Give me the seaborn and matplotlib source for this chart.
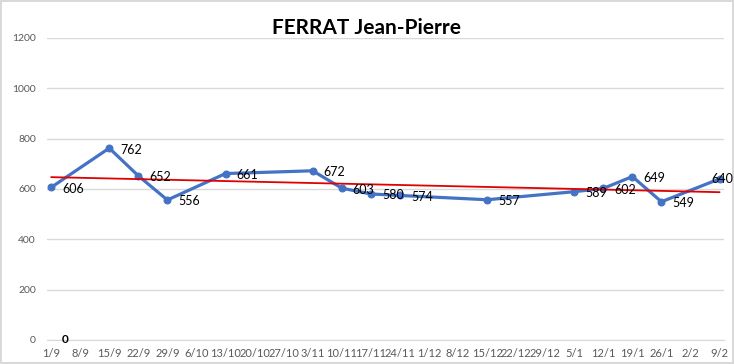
import pandas as pd
import numpy as np
import matplotlib
matplotlib.use('Agg')
import matplotlib.pyplot as plt
import matplotlib.dates as mdates
import seaborn as sns

# data (day/month, season 2019-2020)
dates = ['2019-09-01', '2019-09-15', '2019-09-22', '2019-09-29', '2019-10-13',
         '2019-11-03', '2019-11-10', '2019-11-17', '2019-11-24', '2019-12-15',
         '2020-01-05', '2020-01-12', '2020-01-19', '2020-01-26', '2020-02-09']
values = [606, 762, 652, 556, 661, 672, 603, 580, 574, 557, 589, 602, 649, 549, 640]
zero_dates = ['2019-09-01']
zero_values = [0]
title = 'FERRAT Jean-Pierre'

df = pd.DataFrame({'date': pd.to_datetime(dates), 'value': values})

sns.set_style('white')
plt.rcParams['font.family'] = ['Lato', 'DejaVu Sans']

fig = plt.figure(figsize=(7.34, 3.64), dpi=100)
fig.patch.set_edgecolor('#d9d9d9')
fig.patch.set_linewidth(1.5)
ax = fig.add_axes([0.064, 0.066, 0.922, 0.830])

sns.lineplot(data=df, x='date', y='value', ax=ax, color='#4472C4', linewidth=2.3,
             marker='o', markersize=5, markeredgecolor='#4472C4', zorder=3)

# linear trendline (like Excel)
xnum = mdates.date2num(df['date'])
k, b = np.polyfit(xnum, df['value'], 1)
ax.plot(df['date'].iloc[[0, -1]], k * xnum[[0, -1]] + b, color='#e00000', linewidth=1.3, zorder=4)

n = len(df)
for i, (d, v) in enumerate(zip(df['date'], df['value'])):
    # last label is pushed back inside the chart, like Excel does
    off = (-6, 0) if i == n - 1 else (8, -1)
    ax.annotate(str(v), (d, v), xytext=off, textcoords='offset points',
                ha='left', va='center', fontsize=9, color='#000000', zorder=5)
for d, v in zip(pd.to_datetime(zero_dates), zero_values):
    ax.annotate(str(v), (d, v), xytext=(8, 0), textcoords='offset points',
                ha='left', va='center', fontsize=8.5, fontweight='bold', color='#000000', zorder=5)

start = df['date'].iloc[0]
end = df['date'].iloc[-1]
ticks = pd.date_range(start, end, freq='7D')
ax.set_xticks(ticks)
ax.set_xticklabels([f'{t.day}/{t.month}' for t in ticks])
ax.set_xlim(start - pd.Timedelta(days=1), end + pd.Timedelta(days=1))
ax.set_ylim(0, 1200)
ax.set_yticks(range(0, 1201, 200))

ax.grid(axis='y', color='#d9d9d9', linewidth=1)
ax.set_axisbelow(True)
for s in ['top', 'right', 'left']:
    ax.spines[s].set_visible(False)
ax.spines['bottom'].set_color('#d9d9d9')
ax.tick_params(axis='x', colors='#595959', labelsize=8, length=3, width=0.8, pad=3)
ax.tick_params(axis='x', which='major', color='#d9d9d9')
ax.tick_params(axis='y', colors='#595959', labelsize=7.5, length=0, pad=8)
ax.set_xlabel('')
ax.set_ylabel('')

fig.suptitle(title, x=0.5, y=0.95, fontsize=15, fontweight='bold', color='#000000')

fig.savefig('out.png', dpi=100, edgecolor=fig.get_edgecolor())
